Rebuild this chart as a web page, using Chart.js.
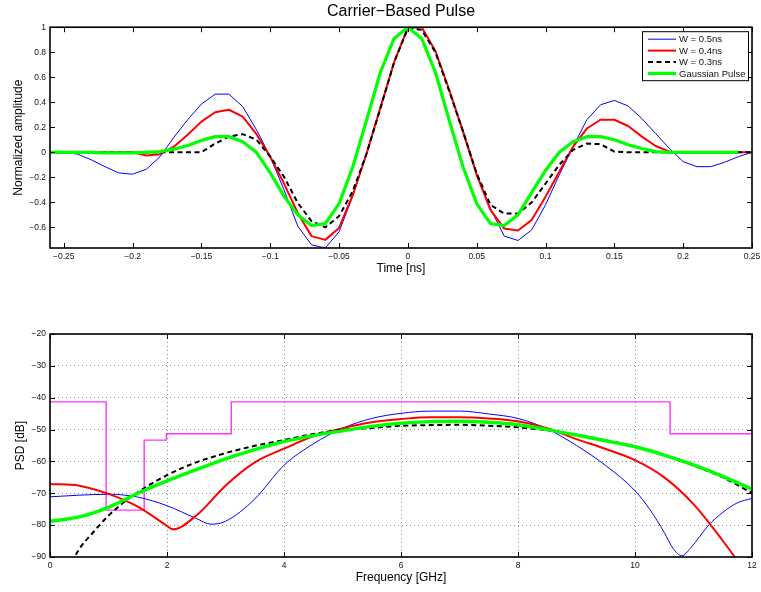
<!DOCTYPE html>
<html>
<head>
<meta charset="utf-8">
<script src="https://cdn.jsdelivr.net/npm/chart.js@4.4.1/dist/chart.umd.min.js"></script>
<style>
  html, body { margin: 0; padding: 0; background: #fff; }
  #wrap { position: relative; width: 761px; height: 592px; overflow: hidden; }
  #c1 { position: absolute; left: 0; top: 0; }
  #c2 { position: absolute; left: 0; top: 292px; }
</style>
</head>
<body>
<div id="wrap">
  <canvas id="c1" width="761" height="292"></canvas>
  <canvas id="c2" width="761" height="300"></canvas>
</div>
<script>
// ---------------- Top chart data (time domain) ----------------
const timeNs = [-0.26,-0.25,-0.24,-0.23,-0.22,-0.21,-0.20,-0.19,-0.18,-0.17,-0.16,-0.15,-0.14,-0.13,-0.12,-0.11,-0.10,-0.09,-0.08,-0.07,-0.06,-0.05,-0.04,-0.03,-0.02,-0.01,0,0.01,0.02,0.03,0.04,0.05,0.06,0.07,0.08,0.09,0.10,0.11,0.12,0.13,0.14,0.15,0.16,0.17,0.18,0.19,0.20,0.21,0.22,0.23,0.24,0.25];
const pulseW05 = [0,0,-0.015,-0.06,-0.115,-0.165,-0.175,-0.135,-0.035,0.12,0.26,0.385,0.465,0.465,0.365,0.18,-0.035,-0.3,-0.59,-0.74,-0.765,-0.635,-0.35,-0.01,0.36,0.72,0.99,1.0,0.81,0.5,0.18,-0.17,-0.45,-0.67,-0.705,-0.62,-0.42,-0.18,0.045,0.26,0.38,0.415,0.37,0.27,0.15,0.03,-0.075,-0.115,-0.115,-0.08,-0.035,0];
const pulseW04 = [0,0,0,0,0,0,0,-0.025,-0.015,0.045,0.14,0.245,0.32,0.34,0.285,0.145,-0.035,-0.25,-0.485,-0.67,-0.70,-0.605,-0.34,-0.01,0.355,0.72,1.0,1.0,0.81,0.5,0.165,-0.18,-0.46,-0.61,-0.625,-0.54,-0.355,-0.155,0.045,0.19,0.26,0.26,0.21,0.125,0.05,0.005,0,0,0,0,0,0];
const pulseW03 = [0,0,0,0,0,0,0,0,0,0,0,0,0.07,0.125,0.145,0.1,-0.035,-0.195,-0.405,-0.55,-0.6,-0.51,-0.31,-0.01,0.35,0.72,0.99,0.98,0.8,0.49,0.17,-0.17,-0.42,-0.49,-0.49,-0.4,-0.25,-0.1,0.02,0.07,0.065,0.005,0,0,0,0,0,0,0,0,0,0];
const pulseGauss = [0,0,0,0,-0.005,-0.005,-0.005,0,0.005,0.025,0.055,0.095,0.125,0.125,0.085,0,-0.165,-0.35,-0.5,-0.585,-0.57,-0.41,-0.115,0.257,0.64,0.91,1.0,0.91,0.64,0.257,-0.115,-0.41,-0.57,-0.585,-0.5,-0.32,-0.145,0,0.085,0.125,0.125,0.1,0.06,0.03,0.005,0,0,0,0,0,0,null];
const timeTicks = [-0.25,-0.2,-0.15,-0.1,-0.05,0,0.05,0.1,0.15,0.2,0.25];
const ampTicks = [-0.6,-0.4,-0.2,0,0.2,0.4,0.6,0.8,1];
const seriesLabels = ['W = 0.5ns','W = 0.4ns','W = 0.3ns','Gaussian Pulse'];

// ---------------- Bottom chart data (PSD) ----------------
const freqW05 = [0,0.5,1,1.5,2,2.5,2.75,3,3.5,4,4.5,5,5.5,6,6.5,7,7.5,8,8.5,9,9.5,10,10.25,10.5,10.65,10.8,10.95,11.25,11.5,11.75,12];
const psdW05  = [-71.1,-70.6,-70.3,-71.2,-73.9,-77.9,-79.7,-78.8,-71.8,-61.2,-54.5,-49.6,-46.5,-44.9,-44.2,-44.2,-45.1,-46.5,-49.8,-55,-61.3,-69.2,-75,-82.3,-87.3,-89.6,-87.2,-80.2,-76,-73,-71.6];
const freqW04 = [0,0.5,1,1.5,2,2.1,2.5,3,3.5,4,4.5,5,5.5,6,6.5,7,7.5,8,8.5,9,9.5,10,10.5,11,11.5,12];
const psdW04  = [-67.1,-67.6,-70.2,-74.2,-80.2,-81.3,-77,-67.6,-60.3,-56,-52.1,-49.6,-47.7,-46.7,-46.1,-46.1,-46.5,-47.4,-49.6,-53,-56.1,-59.6,-65,-73.4,-84.9,-97.5];
const freqW03 = [0.3,0.5,0.75,1,1.25,1.5,2,2.5,3,3.5,4,4.5,5,5.5,6,6.5,7,7.5,8,8.5,9,9.5,10,10.5,11,11.5,12];
const psdW03  = [-94,-87.5,-82,-77,-73,-69.7,-64.3,-60.3,-57.4,-55.1,-53.3,-51.4,-50.1,-49.5,-48.8,-48.6,-48.5,-48.8,-49.3,-50.2,-51.6,-53.4,-55.3,-58,-61.3,-65,-69.9];
const freqGauss = [0,0.5,1,1.5,2,2.5,3,3.5,4,4.5,5,5.5,6,6.5,7,7.5,8,8.5,9,9.5,10,10.5,11,11.5,12];
const psdGauss  = [-78.8,-77.4,-74.4,-70,-66.1,-62.6,-59.2,-56.3,-53.8,-51.9,-50.4,-49,-48,-47.5,-47.4,-47.7,-48.5,-50,-51.7,-53.5,-55.4,-58,-61.1,-64.7,-68.7];
const freqMask = [0,0.96,0.96,1.61,1.61,1.99,1.99,3.1,3.1,10.6,10.6,12];
const psdMask  = [-41.3,-41.3,-75.3,-75.3,-53.3,-53.3,-51.3,-51.3,-41.3,-41.3,-51.3,-51.3];
const freqTicks = [0,2,4,6,8,10,12];
const psdTicks = [-90,-80,-70,-60,-50,-40,-30,-20];

const FONT = "'Liberation Sans', Arial, Helvetica, sans-serif";
const pairs = (xs, ys) => xs.map((x, i) => ({x: x, y: ys[i]}));
const fmt = v => {
  const s = String(Math.round(v * 1000) / 1000);
  return s.replace('-', '\u2212');
};

// inward ticks + black box
const boxTicks = {
  id: 'boxTicks',
  afterDatasetsDraw(chart) {
    const {ctx, chartArea: a, scales} = chart;
    const L = 5;
    ctx.save();
    ctx.strokeStyle = '#000';
    ctx.lineWidth = 1;
    ctx.beginPath();
    scales.x.ticks.forEach(t => {
      const px = Math.round(scales.x.getPixelForValue(t.value)) + 0.5;
      ctx.moveTo(px, a.bottom); ctx.lineTo(px, a.bottom - L);
      ctx.moveTo(px, a.top); ctx.lineTo(px, a.top + L);
    });
    scales.y.ticks.forEach(t => {
      const py = Math.round(scales.y.getPixelForValue(t.value)) + 0.5;
      ctx.moveTo(a.left, py); ctx.lineTo(a.left + L, py);
      ctx.moveTo(a.right, py); ctx.lineTo(a.right - L, py);
    });
    ctx.stroke();
    ctx.lineWidth = 1.6;
    ctx.strokeRect(a.left, a.top, a.right - a.left, a.bottom - a.top);
    ctx.restore();
  }
};

// legend drawn inside plot area (top chart)
const innerLegend = {
  id: 'innerLegend',
  afterDraw(chart) {
    const ctx = chart.ctx;
    const a = chart.chartArea;
    const x0 = a.right - 110, y0 = a.top + 4, w = 106, h = 49;
    ctx.save();
    ctx.fillStyle = '#fff';
    ctx.fillRect(x0, y0, w, h);
    ctx.strokeStyle = '#000';
    ctx.lineWidth = 1;
    ctx.strokeRect(x0 + 0.5, y0 + 0.5, w, h);
    ctx.font = '9.5px ' + FONT;
    ctx.textBaseline = 'middle';
    chart.data.datasets.forEach((ds, i) => {
      const y = y0 + 8 + i * 11.4;
      ctx.strokeStyle = ds.borderColor;
      ctx.lineWidth = ds.borderWidth;
      ctx.setLineDash(ds.borderDash || []);
      ctx.beginPath();
      ctx.moveTo(x0 + 6, y); ctx.lineTo(x0 + 34, y);
      ctx.stroke();
      ctx.setLineDash([]);
      ctx.fillStyle = '#111';
      ctx.fillText(ds.label, x0 + 37, y + 0.5);
    });
    ctx.restore();
  }
};

function fixedTicks(values) {
  return function(scale) { scale.ticks = values.map(v => ({value: v})); };
}
function fitX(h) {
  return function(s) { s.height = h; s.paddingLeft = 0; s.paddingRight = 0; };
}
function fitY(w) {
  return function(s) { s.width = w; s.paddingTop = 0; s.paddingBottom = 0; };
}

// ---------------- Top chart ----------------
new Chart(document.getElementById('c1'), {
  type: 'line',
  data: {
    datasets: [
      {label: seriesLabels[0], data: pairs(timeNs, pulseW05), borderColor: '#0000ff', borderWidth: 1, order: 4},
      {label: seriesLabels[1], data: pairs(timeNs, pulseW04), borderColor: '#ff0000', borderWidth: 2, order: 3},
      {label: seriesLabels[2], data: pairs(timeNs, pulseW03), borderColor: '#000000', borderWidth: 2, borderDash: [5, 3.5], order: 2},
      {label: seriesLabels[3], data: pairs(timeNs, pulseGauss), borderColor: '#00ff00', borderWidth: 3.2, order: 1}
    ]
  },
  options: {
    responsive: false,
    animation: false,
    devicePixelRatio: 1,
    elements: {point: {radius: 0}, line: {tension: 0, borderJoinStyle: 'round', borderCapStyle: 'butt'}},
    layout: {padding: {left: 11, right: 9, top: 0, bottom: 16}},
    plugins: {
      legend: {display: false},
      tooltip: {enabled: false},
      title: {
        display: true, text: 'Carrier\u2212Based Pulse', fullSize: false,
        color: '#000', font: {family: FONT, size: 16, weight: 'normal'},
        padding: {top: 2, bottom: 6}
      }
    },
    scales: {
      x: {
        type: 'linear', min: -0.26, max: 0.25,
        afterBuildTicks: fixedTicks(timeTicks),
        afterFit: fitX(28),
        grid: {display: false, drawTicks: false},
        border: {display: false},
        ticks: {font: {family: FONT, size: 8.5}, color: '#111', padding: 4, maxRotation: 0, autoSkip: false, callback: v => fmt(v)},
        title: {display: true, text: 'Time [ns]', color: '#000', font: {family: FONT, size: 12}, padding: 0}
      },
      y: {
        type: 'linear', min: -0.765, max: 1,
        afterBuildTicks: fixedTicks(ampTicks),
        afterFit: fitY(39),
        grid: {display: false, drawTicks: false},
        border: {display: false},
        ticks: {font: {family: FONT, size: 8.5}, color: '#111', padding: 4, autoSkip: false, callback: v => fmt(v)},
        title: {display: true, text: 'Normalized amplitude', color: '#000', font: {family: FONT, size: 12}, padding: 0}
      }
    }
  },
  plugins: [boxTicks, innerLegend]
});

// ---------------- Bottom chart ----------------
new Chart(document.getElementById('c2'), {
  type: 'line',
  data: {
    datasets: [
      {label: seriesLabels[0], data: pairs(freqW05, psdW05), borderColor: '#0000ff', borderWidth: 1, order: 5},
      {label: seriesLabels[1], data: pairs(freqW04, psdW04), borderColor: '#ff0000', borderWidth: 2, order: 4},
      {label: seriesLabels[2], data: pairs(freqW03, psdW03), borderColor: '#000000', borderWidth: 2, borderDash: [5, 3.5], order: 3},
      {label: seriesLabels[3], data: pairs(freqGauss, psdGauss), borderColor: '#00ff00', borderWidth: 3.4, order: 2},
      {label: 'FCC mask', data: pairs(freqMask, psdMask), borderColor: '#ff33ff', borderWidth: 1.4, order: 6, tension: 0, cubicInterpolationMode: 'default'}
    ]
  },
  options: {
    responsive: false,
    animation: false,
    devicePixelRatio: 1,
    elements: {point: {radius: 0}, line: {cubicInterpolationMode: 'monotone', borderJoinStyle: 'round'}},
    layout: {padding: {left: 13, right: 9, top: 42, bottom: 7}},
    plugins: {legend: {display: false}, tooltip: {enabled: false}},
    scales: {
      x: {
        type: 'linear', min: 0, max: 12,
        afterBuildTicks: fixedTicks(freqTicks),
        afterFit: fitX(28),
        grid: {display: true, drawTicks: false, color: '#8a8a8a', lineWidth: 1},
        border: {display: false, dash: [1, 3]},
        ticks: {font: {family: FONT, size: 8.5}, color: '#111', padding: 4, maxRotation: 0, autoSkip: false, callback: v => fmt(v)},
        title: {display: true, text: 'Frequency [GHz]', color: '#000', font: {family: FONT, size: 12}, padding: 0}
      },
      y: {
        type: 'linear', min: -90, max: -20,
        afterBuildTicks: fixedTicks(psdTicks),
        afterFit: fitY(37),
        grid: {display: true, drawTicks: false, color: '#8a8a8a', lineWidth: 1},
        border: {display: false, dash: [1, 3]},
        ticks: {font: {family: FONT, size: 8.5}, color: '#111', padding: 4, autoSkip: false, callback: v => fmt(v)},
        title: {display: true, text: 'PSD [dB]', color: '#000', font: {family: FONT, size: 12}, padding: 0}
      }
    }
  },
  plugins: [boxTicks]
});
</script>
</body>
</html>
